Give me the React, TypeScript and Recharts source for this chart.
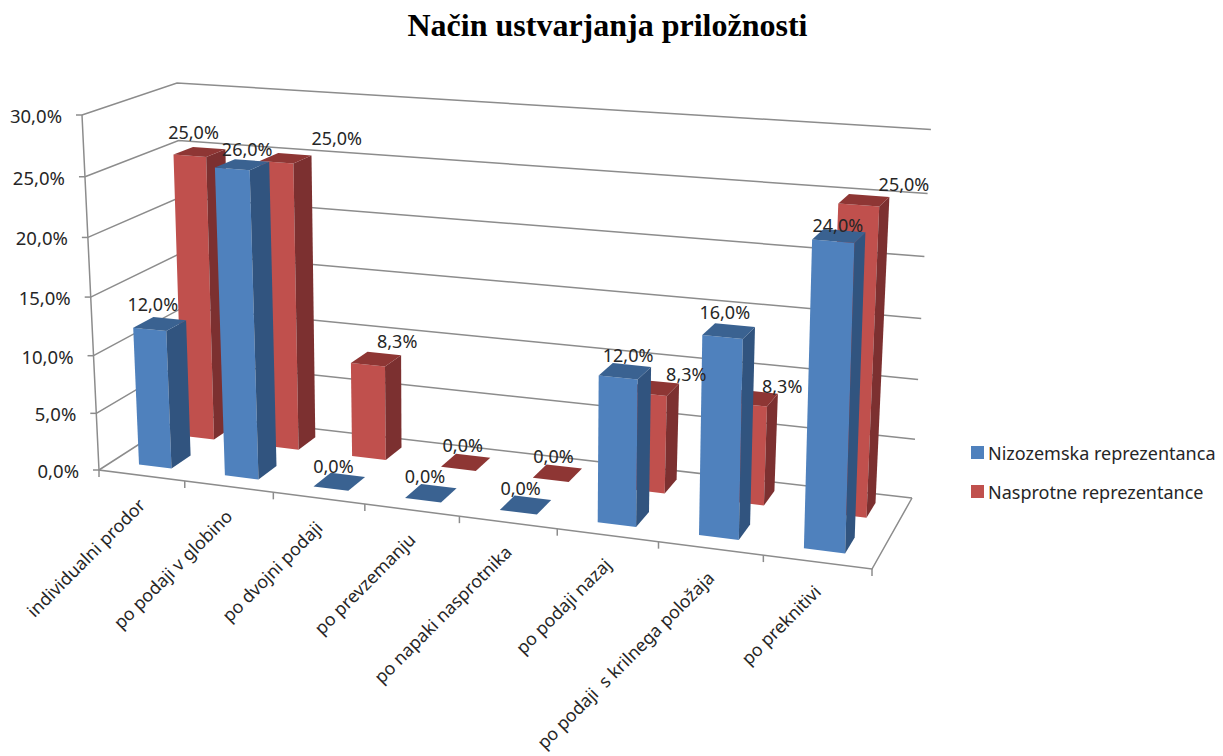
import { Bar, BarChart, CartesianGrid, LabelList, Legend, XAxis, YAxis } from "recharts";

const categories = [
  "individualni prodor",
  "po podaji v globino",
  "po dvojni podaji",
  "po prevzemanju",
  "po napaki nasprotnika",
  "po podaji nazaj",
  "po podaji  s krilnega položaja",
  "po preknitivi",
];
const nizozemska = [12, 26, 0, 0, 0, 12, 16, 24];
const nasprotne = [25, 25, 8.3, 0, 0, 8.3, 8.3, 25];
const valueTicks = [0, 5, 10, 15, 20, 25, 30];

const data = categories.map((name, i) => ({
  name,
  nizozemska: nizozemska[i],
  nasprotne: nasprotne[i],
}));

// plot rectangle the library scales work in, everything gets projected from here
const LEFT = 99;
const RIGHT = 872;
const TOP = 115;
const BOTTOM = 470;
const PLOT_W = RIGHT - LEFT;
const PLOT_H = BOTTOM - TOP;
const BAR_SIZE = 37;

type Pt = { x: number; y: number };

// floor and top-of-scale corners of the 3d box as Excel drew it
const F0 = { x: 99, y: 470 };
const F1 = { x: 872, y: 569 };
const F2 = { x: 912, y: 498 };
const F3 = { x: 186, y: 414 };
const T0 = { x: 82, y: 115 };
const T1 = { x: 884, y: 170 };
const T3 = { x: 177, y: 83 };

const dx1 = F1.x - F2.x;
const dy1 = F1.y - F2.y;
const dx2 = F3.x - F2.x;
const dy2 = F3.y - F2.y;
const sx = F0.x - F1.x + F2.x - F3.x;
const sy = F0.y - F1.y + F2.y - F3.y;
const den = dx1 * dy2 - dx2 * dy1;
const G = (sx * dy2 - dx2 * sy) / den;
const H = (dx1 * sy - sx * dy1) / den;

function basis(p0: Pt, p1: Pt, p3: Pt) {
  return {
    ax: p1.x * (1 + G) - p0.x,
    ay: p1.y * (1 + G) - p0.y,
    bx: p3.x * (1 + H) - p0.x,
    by: p3.y * (1 + H) - p0.y,
  };
}
const floorB = basis(F0, F1, F3);
const topB = basis(T0, T1, T3);

// u along the categories, d into the depth, t up the value axis (all 0..1)
function project(u: number, d: number, t: number): Pt {
  const w = 1 + G * u + H * d;
  const fx = (F0.x + floorB.ax * u + floorB.bx * d) / w;
  const fy = (F0.y + floorB.ay * u + floorB.by * d) / w;
  const tx = (T0.x + topB.ax * u + topB.bx * d) / w;
  const ty = (T0.y + topB.ay * u + topB.by * d) / w;
  // the upper gridlines sit a bit further apart than the lower ones
  const k = t / (1 + 0.053 * (1 - t));
  return { x: fx + (tx - fx) * k, y: fy + (ty - fy) * k };
}

const poly = (pts: Pt[]) => pts.map((p) => `${p.x.toFixed(1)},${p.y.toFixed(1)}`).join(" ");

const FONT = "'Noto Sans', sans-serif";
const TEXT = "#262626";
const LINE = "#8c8c8c";

const BLUE = { front: "#4f81bd", side: "#31547f", top: "#3a6291" };
const RED = { front: "#c0504d", side: "#7c3030", top: "#8e3634" };

function Bar3D(props: any) {
  const { x, width, height, depth, colors } = props;
  const u0 = (x - LEFT) / PLOT_W;
  const u1 = (x + width - LEFT) / PLOT_W;
  const t = height / PLOT_H;
  const [d0, d1] = depth;
  const front = [project(u0, d0, 0), project(u1, d0, 0), project(u1, d0, t), project(u0, d0, t)];
  const side = [project(u1, d0, 0), project(u1, d1, 0), project(u1, d1, t), project(u1, d0, t)];
  const top = [project(u0, d0, t), project(u1, d0, t), project(u1, d1, t), project(u0, d1, t)];
  return (
    <g>
      <polygon points={poly(front)} fill={colors.front} />
      <polygon points={poly(side)} fill={colors.side} />
      <polygon points={poly(top)} fill={colors.top} />
    </g>
  );
}

// Excel moved some labels around, these are per-label nudges from the top of the bar
const BLUE_NUDGE = [[-7, -20], [5, -16], [-6, -16], [-6, -17], [-5, -17], [3, -16], [-4, -19], [-1, -11]];
const RED_NUDGE = [[-6, -20], [51, -20], [21, -18], [-3, -17], [-4, -17], [32, -14], [29, -12], [40, -16]];

function BarLabel(props: any) {
  const { index, value, depth, nudge } = props;
  const box = props.viewBox ?? props;
  const u = (box.x + box.width / 2 - LEFT) / PLOT_W;
  const t = Math.abs(box.height) / PLOT_H;
  const p = project(u, (depth[0] + depth[1]) / 2, t);
  return (
    <text
      x={p.x + nudge[index][0]}
      y={p.y + nudge[index][1]}
      textAnchor="middle"
      dominantBaseline="central"
      fontFamily={FONT}
      fontSize={18}
      fill={TEXT}
    >
      {Number(value).toFixed(1).replace(".", ",")}%
    </text>
  );
}

function GridLine(props: any) {
  const t = (BOTTOM - props.y1) / PLOT_H;
  return (
    <polyline
      points={poly([project(0, 0, t), project(0, 1, t), project(1, 1, t)])}
      fill="none"
      stroke={LINE}
      strokeWidth={1.5}
    />
  );
}

function ValueTick(props: any) {
  const { y, payload } = props;
  const t = (BOTTOM - y) / PLOT_H;
  const p = project(0, 0, t);
  return (
    <g>
      <line x1={p.x - 6} y1={p.y} x2={p.x} y2={p.y} stroke={LINE} strokeWidth={1.5} />
      <text
        x={p.x - 20}
        y={p.y + 0.5}
        textAnchor="end"
        dominantBaseline="central"
        fontFamily={FONT}
        fontSize={18.5}
        fill={TEXT}
      >
        {Number(payload.value).toFixed(1).replace(".", ",")}%
      </text>
    </g>
  );
}

function CategoryTick(props: any) {
  const { x, index, payload } = props;
  const step = PLOT_W / categories.length;
  const u = (x - LEFT) / PLOT_W;
  const mid = project(u, 0, 0);
  const a = project(u - step / 2 / PLOT_W, 0, 0);
  const b = project(u + step / 2 / PLOT_W, 0, 0);
  const lx = mid.x + 5;
  const ly = mid.y + 31;
  return (
    <g>
      <line x1={a.x} y1={a.y} x2={a.x} y2={a.y + 7} stroke={LINE} strokeWidth={1.5} />
      {index === categories.length - 1 && (
        <line x1={b.x} y1={b.y} x2={b.x} y2={b.y + 7} stroke={LINE} strokeWidth={1.5} />
      )}
      <text
        x={lx}
        y={ly}
        textAnchor="end"
        transform={`rotate(-45 ${lx} ${ly})`}
        fontFamily={FONT}
        fontSize={17.7}
        fill={TEXT}
        style={{ whiteSpace: "pre" }}
      >
        {payload.value}
      </text>
    </g>
  );
}

function LegendBox({ payload }: any) {
  const items = [...(payload ?? [])].reverse();
  return (
    <div>
      {items.map((item: any) => (
        <div key={item.value} style={{ display: "flex", alignItems: "center", height: 39 }}>
          <span style={{ width: 13, height: 13, background: item.color, marginRight: 4 }} />
          <span style={{ fontFamily: FONT, fontSize: 18, color: TEXT, whiteSpace: "nowrap" }}>{item.value}</span>
        </div>
      ))}
    </div>
  );
}

const BLUE_DEPTH = [0.15, 0.37];
const RED_DEPTH = [0.65, 0.87];

export default function App() {
  return (
    <div style={{ position: "absolute", left: 0, top: 0, width: 1223, height: 756, background: "#fff" }}>
      <div
        style={{
          position: "absolute",
          left: 0,
          width: 1215,
          top: 7,
          textAlign: "center",
          fontFamily: "'Liberation Serif', serif",
          fontWeight: "bold",
          fontSize: 32,
          color: "#000",
        }}
      >
        Način ustvarjanja priložnosti
      </div>
      <BarChart
        width={1223}
        height={756}
        data={data}
        margin={{ top: TOP, right: 1223 - RIGHT, bottom: 256, left: 0 }}
        barSize={BAR_SIZE}
        barGap={-BAR_SIZE}
      >
        <CartesianGrid vertical={false} horizontal={(p: any) => <GridLine key={p.key ?? p.y1} {...p} />} />
        <XAxis
          dataKey="name"
          axisLine={false}
          tickLine={false}
          height={30}
          interval={0}
          tick={(p: any) => <CategoryTick {...p} />}
        />
        <YAxis
          domain={[0, 30]}
          ticks={valueTicks}
          width={LEFT}
          axisLine={false}
          tickLine={false}
          tick={(p: any) => <ValueTick {...p} />}
        />
        <Legend
          layout="vertical"
          align="center"
          verticalAlign="middle"
          wrapperStyle={{ left: 971, top: 433, width: 250 }}
          content={(p: any) => <LegendBox {...p} />}
        />
        {/* back row first so the front row paints over it */}
        <Bar
          dataKey="nasprotne"
          name="Nasprotne reprezentance"
          fill={RED.front}
          isAnimationActive={false}
          shape={(p: any) => <Bar3D {...p} depth={RED_DEPTH} colors={RED} />}
        >
          <LabelList
            dataKey="nasprotne"
            content={(p: any) => <BarLabel {...p} depth={RED_DEPTH} nudge={RED_NUDGE} />}
          />
        </Bar>
        <Bar
          dataKey="nizozemska"
          name="Nizozemska reprezentanca"
          fill={BLUE.front}
          isAnimationActive={false}
          shape={(p: any) => <Bar3D {...p} depth={BLUE_DEPTH} colors={BLUE} />}
        >
          <LabelList
            dataKey="nizozemska"
            content={(p: any) => <BarLabel {...p} depth={BLUE_DEPTH} nudge={BLUE_NUDGE} />}
          />
        </Bar>
        {/* front axis lines */}
        <polyline points={poly([project(0, 0, 1), project(0, 0, 0), project(1, 0, 0), project(1, 1, 0)])} fill="none" stroke={LINE} strokeWidth={1.5} />
      </BarChart>
    </div>
  );
}
